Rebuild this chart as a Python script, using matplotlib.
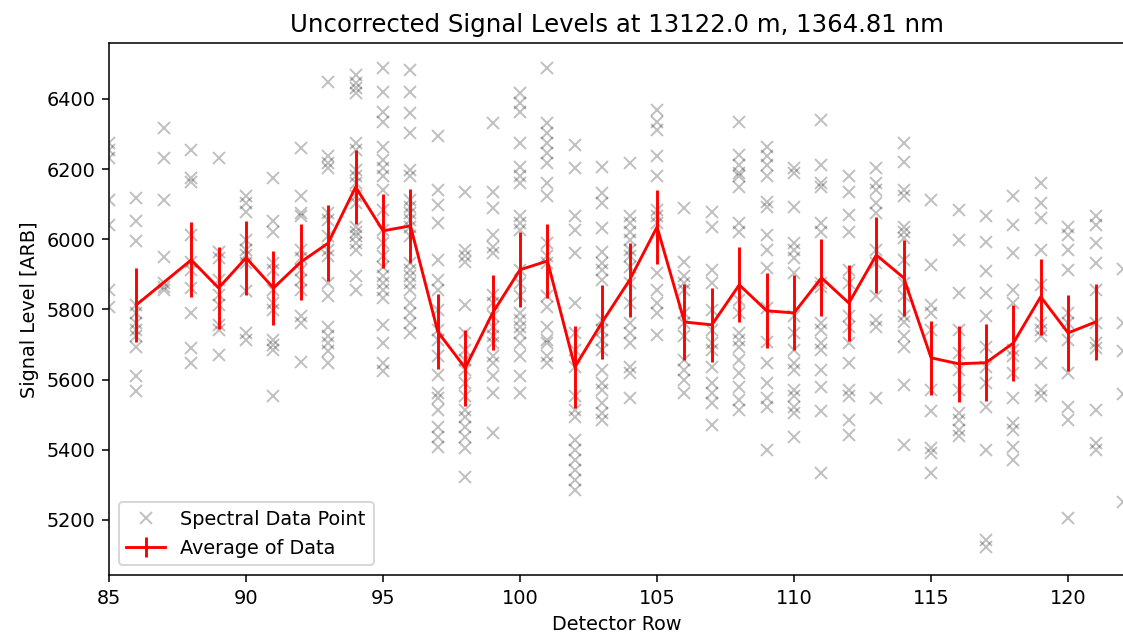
import numpy as np
import matplotlib
matplotlib.use("Agg")
import matplotlib.pyplot as plt

# detector rows that have individual spectral samples
point_rows = list(range(85, 123))

# signal levels
point_values = [
    [6274, 6255, 6231, 6112, 6041, 5856, 5808],                                        # 85
    [6117, 6053, 5995, 5813, 5789, 5761, 5742, 5723, 5694, 5610, 5566],                # 86
    [6318, 6231, 6112, 5949, 5875, 5863, 5856],                                        # 87
    [6253, 6174, 6164, 6012, 5935, 5912, 5860, 5789, 5691, 5646],                      # 88
    [6231, 5965, 5946, 5884, 5841, 5813, 5756, 5742, 5670],                            # 89
    [6122, 6103, 6079, 5998, 5970, 5955, 5932, 5851, 5732, 5713],                      # 90
    [6174, 6053, 6022, 5932, 5913, 5856, 5818, 5799, 5713, 5699, 5685, 5552],          # 91
    [6259, 6122, 6074, 6065, 5970, 5946, 5913, 5884, 5856, 5780, 5761, 5651],          # 92
    [6449, 6236, 6217, 6202, 6074, 6055, 6008, 5970, 5951, 5875, 5837, 5751, 5723,
     5704, 5680, 5647],                                                                # 93
    [6468, 6445, 6430, 6416, 6274, 6255, 6198, 6179, 6160, 6122, 6103, 6036, 6022,
     6008, 5989, 5970, 5894, 5856],                                                    # 94
    [6487, 6421, 6364, 6335, 6264, 6226, 6202, 6179, 6141, 6084, 6027, 5989, 5951,
     5922, 5894, 5875, 5856, 5832, 5756, 5703, 5646, 5623],                            # 95
    [6483, 6421, 6359, 6302, 6198, 6179, 6112, 6093, 6074, 6055, 6036, 6008, 5932,
     5913, 5894, 5875, 5856, 5818, 5789, 5761, 5732],                                  # 96
    [6293, 6141, 6098, 6046, 5941, 5884, 5856, 5799, 5742, 5713, 5666, 5613, 5561,
     5547, 5513, 5466, 5437, 5409],                                                    # 97
    [6136, 5970, 5951, 5936, 5813, 5732, 5685, 5656, 5627, 5590, 5552, 5513, 5494,
     5466, 5437, 5404, 5323],                                                          # 98
    [6331, 6136, 6088, 6012, 5979, 5960, 5841, 5818, 5780, 5751, 5723, 5704, 5666,
     5647, 5609, 5561, 5447],                                                          # 99
    [6416, 6388, 6364, 6274, 6207, 6179, 6160, 6065, 6046, 6027, 5913, 5875, 5837,
     5789, 5770, 5751, 5732, 5704, 5666, 5609, 5561],                                  # 100
    [6487, 6331, 6302, 6274, 6245, 6217, 6160, 6122, 5989, 5951, 5932, 5837, 5808,
     5751, 5713, 5704, 5666, 5647],                                                    # 101
    [6269, 6202, 6065, 6027, 5960, 5818, 5732, 5685, 5637, 5552, 5513, 5494, 5428,
     5399, 5371, 5342, 5314, 5285],                                                    # 102
    [6207, 6131, 6103, 6031, 5965, 5932, 5913, 5884, 5770, 5742, 5713, 5685, 5627,
     5590, 5571, 5533, 5504, 5485],                                                    # 103
    [6217, 6065, 6046, 6022, 5998, 5970, 5951, 5922, 5875, 5818, 5761, 5732, 5704,
     5637, 5618, 5547],                                                                # 104
    [6369, 6335, 6312, 6236, 6179, 6084, 6065, 6046, 5903, 5856, 5818, 5789, 5727],    # 105
    [6088, 5936, 5894, 5875, 5856, 5789, 5761, 5723, 5656, 5627, 5599, 5561],          # 106
    [6079, 6036, 5913, 5875, 5799, 5742, 5704, 5685, 5637, 5590, 5561, 5533, 5471],    # 107
    [6335, 6240, 6212, 6188, 6179, 6150, 6046, 6022, 5827, 5789, 5732, 5713, 5694,
     5656, 5618, 5580, 5542, 5513],                                                    # 108
    [6264, 6236, 6212, 6179, 6107, 6093, 6012, 5970, 5917, 5803, 5708, 5647, 5590,
     5547, 5523, 5400],                                                                # 109
    [6202, 6188, 6093, 5989, 5970, 5946, 5903, 5780, 5732, 5685, 5647, 5628, 5571,
     5552, 5523, 5504, 5437],                                                          # 110
    [6340, 6212, 6160, 6150, 6046, 6022, 5875, 5865, 5761, 5742, 5704, 5685, 5628,
     5580, 5509, 5333],                                                                # 111
    [6179, 6136, 6069, 6022, 5913, 5875, 5780, 5751, 5704, 5647, 5571, 5552, 5485,
     5442],                                                                            # 112
    [6202, 6160, 6141, 6103, 6074, 5970, 5932, 5837, 5770, 5751, 5547],                # 113
    [6274, 6221, 6141, 6122, 6036, 6022, 6003, 5941, 5875, 5837, 5780, 5765, 5723,
     5694, 5585, 5414],                                                                # 114
    [6112, 5927, 5813, 5789, 5742, 5571, 5509, 5404, 5390, 5333],                      # 115
    [6084, 5998, 5846, 5742, 5675, 5628, 5571, 5504, 5485, 5457, 5438],                # 116
    [6065, 5993, 5908, 5846, 5780, 5694, 5637, 5590, 5523, 5400, 5143, 5124],          # 117
    [6122, 6041, 5960, 5856, 5818, 5685, 5666, 5618, 5547, 5476, 5457, 5409, 5371],    # 118
    [6160, 6103, 6060, 5970, 5870, 5761, 5742, 5723, 5647, 5571, 5552],                # 119
    [6036, 6012, 5970, 5913, 5789, 5761, 5713, 5618, 5523, 5485, 5205],                # 120
    [6065, 6041, 5989, 5932, 5856, 5761, 5704, 5689, 5514, 5419, 5400],                # 121
    [5915, 5760, 5682, 5560, 5250],                                                    # 122
]

# averaged signal per row with error bar half-lengths
avg_rows = [86] + list(range(88, 122))
avg_values = [5813, 5941, 5861, 5947, 5861, 5935, 5989, 6149, 6024, 6038,
              5736, 5633, 5790, 5913, 5938, 5636, 5764, 5884, 6035, 5764,
              5756, 5870, 5796, 5790, 5890, 5818, 5955, 5890, 5662, 5645,
              5648, 5704, 5836, 5733, 5764]
avg_errors = [105, 107, 118, 106, 106, 108, 108, 106, 106, 106,
              107, 107, 107, 107, 106, 117, 106, 106, 106, 107,
              106, 107, 107, 107, 110, 108, 108, 108, 106, 108,
              109, 109, 109, 109, 109]

fig = plt.figure(figsize=(8.08, 4.576), dpi=139)
ax = fig.add_axes([109 / 1123, 1 - 575 / 636, (1125 - 109) / 1123, (575 - 43.5) / 636])

first = True
for row, vals in zip(point_rows, point_values):
    ax.plot([row] * len(vals), vals, 'x', color='k', alpha=0.25,
            label='Spectral Data Point' if first else None)
    first = False

ax.errorbar(avg_rows, avg_values, yerr=avg_errors, color='r', ecolor='r',
            label='Average of Data')

ax.set_xlim(85, 85 + (1125 - 109) / 27.4)
ax.set_ylim(5043, 6558)
ax.set_xticks(np.arange(85, 121, 5))
ax.set_yticks(np.arange(5200, 6401, 200))
ax.set_title('Uncorrected Signal Levels at 13122.0 m, 1364.81 nm', fontsize=12.6)
ax.set_xlabel('Detector Row')
ax.set_ylabel('Signal Level [ARB]')
ax.legend(loc='lower left')

fig.savefig('out.png', dpi=139)
